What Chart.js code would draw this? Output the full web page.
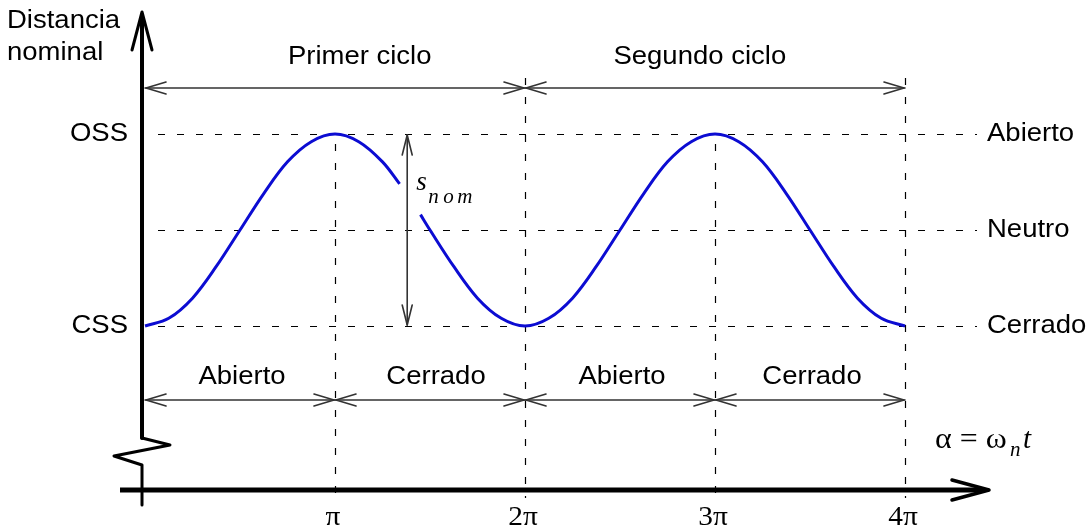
<!DOCTYPE html>
<html>
<head>
<meta charset="utf-8">
<script src="https://cdn.jsdelivr.net/npm/chart.js@4.4.0/dist/chart.umd.min.js"></script>
<style>
  html, body { margin: 0; padding: 0; background: #fff; }
  canvas { display: block; }
</style>
</head>
<body>
<canvas id="chart" width="1089" height="529"></canvas>
<script>
// Curve samples: x in multiples of pi, y normalised (-1 = CSS, 0 = neutro, 1 = OSS)
// null leaves the gap where the s_nom label sits
const curveX = [0, 0.125, 0.25, 0.375, 0.5, 0.625, 0.75, 0.875, 1, 1.125, 1.25, 1.34, 1.4, 1.45, 1.5,
  1.625, 1.75, 1.875, 2, 2.125, 2.25, 2.375, 2.5, 2.625, 2.75, 2.875, 3, 3.125, 3.25, 3.375, 3.5,
  3.625, 3.75, 3.875, 4];
const curveY = [-1, -0.92, -0.71, -0.38, 0, 0.38, 0.71, 0.92, 1, 0.92, 0.71, 0.48, null, 0.16, 0,
  -0.38, -0.71, -0.92, -1, -0.92, -0.71, -0.38, 0, 0.38, 0.71, 0.92, 1, 0.92, 0.71, 0.38, 0,
  -0.38, -0.71, -0.92, -1];

const levelValues = [1, 0, -1];
const levelLeft = ['OSS', '', 'CSS'];
const levelRight = ['Abierto', 'Neutro', 'Cerrado'];

const tickValues = [1, 2, 3, 4];
const tickLabels = ['π', '2π', '3π', '4π'];

const cycleBounds = [0, 2, 4];
const cycleLabels = ['Primer ciclo', 'Segundo ciclo'];

const phaseBounds = [0, 1, 2, 3, 4];
const phaseLabels = ['Abierto', 'Cerrado', 'Abierto', 'Cerrado'];

const SANS = '"Liberation Sans", Arial, sans-serif';
const SERIF = '"Liberation Serif", "DejaVu Serif", serif';

function seg(ctx, x1, y1, x2, y2) {
  ctx.beginPath();
  ctx.moveTo(x1, y1);
  ctx.lineTo(x2, y2);
  ctx.stroke();
}

// open chevron head, (dx,dy) = direction the arrow points
function head(ctx, tx, ty, dx, dy, len, half) {
  const bx = tx - dx * len, by = ty - dy * len;
  ctx.beginPath();
  ctx.moveTo(bx - dy * half, by + dx * half);
  ctx.lineTo(tx, ty);
  ctx.lineTo(bx + dy * half, by - dx * half);
  ctx.stroke();
}

function hArrow(ctx, xa, xb, py) {
  seg(ctx, xa, py, xb, py);
  head(ctx, xa + 1, py, -1, 0, 20, 6);
  head(ctx, xb - 1, py, 1, 0, 20, 6);
}

function text(ctx, str, px, py, font, align, sx = 1.1) {
  ctx.save();
  ctx.font = font;
  ctx.textAlign = align;
  ctx.textBaseline = 'middle';
  ctx.translate(px, py);
  ctx.scale(sx, 1);
  ctx.fillText(str, 0, 0);
  ctx.restore();
}

const diagram = {
  id: 'diagram',
  beforeDatasetsDraw(chart) {
    const { ctx, scales: { x, y } } = chart;
    const x0 = x.getPixelForValue(0);
    const xEnd = x.getPixelForValue(4);
    const yOss = y.getPixelForValue(1);
    ctx.save();
    ctx.strokeStyle = '#000';
    ctx.lineWidth = 1.2;
    ctx.setLineDash([7, 12]);
    levelValues.forEach(v => {
      const py = Math.round(y.getPixelForValue(v)) + 0.5;
      seg(ctx, x0 + 13, py, xEnd + 72, py);
    });
    tickValues.forEach(v => {
      const px = Math.round(x.getPixelForValue(v)) + 0.5;
      const top = v % 2 === 0 ? yOss - 56 : yOss + 10;
      seg(ctx, px, top, px, y.getPixelForValue(-1) + 172);
    });
    ctx.restore();
  },
  afterDatasetsDraw(chart) {
    const { ctx, scales: { x, y } } = chart;
    const yOss = y.getPixelForValue(1);
    const yCss = y.getPixelForValue(-1);
    const xAxis = x.getPixelForValue(0) - 3;
    const yAxis = yCss + 164;
    ctx.save();
    ctx.fillStyle = '#000';
    ctx.lineCap = 'round';
    ctx.lineJoin = 'round';

    // vertical axis with break
    ctx.strokeStyle = '#000';
    ctx.lineWidth = 4;
    seg(ctx, xAxis, 16, xAxis, yCss + 112);
    ctx.lineWidth = 3;
    ctx.beginPath();
    ctx.moveTo(xAxis, yCss + 112);
    ctx.lineTo(xAxis + 28, yCss + 119);
    ctx.lineTo(xAxis - 28, yCss + 130);
    ctx.lineTo(xAxis, yCss + 139);
    ctx.lineTo(xAxis, yAxis + 15);
    ctx.stroke();
    head(ctx, xAxis, 12, 0, -1, 38, 10);

    // horizontal axis
    ctx.lineWidth = 5;
    ctx.lineCap = 'butt';
    seg(ctx, xAxis - 22, yAxis, x.getPixelForValue(4) + 80, yAxis);
    ctx.lineCap = 'round';
    ctx.lineWidth = 3.5;
    head(ctx, x.getPixelForValue(4) + 84, yAxis, 1, 0, 37, 10);

    // double arrows
    ctx.strokeStyle = '#333';
    ctx.lineWidth = 1.6;
    const yCycle = yOss - 46;
    for (let i = 0; i < cycleLabels.length; i++) {
      hArrow(ctx, x.getPixelForValue(cycleBounds[i]), x.getPixelForValue(cycleBounds[i + 1]), yCycle);
    }
    const yPhase = yCss + 74;
    for (let i = 0; i < phaseLabels.length; i++) {
      hArrow(ctx, x.getPixelForValue(phaseBounds[i]), x.getPixelForValue(phaseBounds[i + 1]), yPhase);
    }
    // s_nom arrow
    const xs = x.getPixelForValue(1.38);
    seg(ctx, xs, yOss + 1, xs, yCss - 1);
    head(ctx, xs, yOss + 1, 0, -1, 20, 5);
    head(ctx, xs, yCss - 1, 0, 1, 20, 5);

    // texts
    const f = `25px ${SANS}`;
    text(ctx, 'Distancia', 7, 21, f, 'left');
    text(ctx, 'nominal', 7, 53, f, 'left');
    text(ctx, cycleLabels[0], x.getPixelForValue(1.13), yCycle - 31, f, 'center');
    text(ctx, cycleLabels[1], x.getPixelForValue(2.92), yCycle - 31, f, 'center');
    for (let i = 0; i < phaseLabels.length; i++) {
      const mid = (phaseBounds[i] + phaseBounds[i + 1]) / 2;
      text(ctx, phaseLabels[i], x.getPixelForValue(mid) + (i === 1 ? 6 : 2), yPhase - 23, f, 'center');
    }
    levelValues.forEach((v, i) => {
      const py = y.getPixelForValue(v);
      if (levelLeft[i]) text(ctx, levelLeft[i], xAxis - 14, py, f, 'right');
      text(ctx, levelRight[i], x.getPixelForValue(4) + 82, py, f, 'left');
    });
    tickValues.forEach((v, i) => {
      text(ctx, tickLabels[i], x.getPixelForValue(v) - 2, yAxis + 28, `28px ${SERIF}`, 'center', 1.05);
    });

    // s_nom label
    text(ctx, 's', xs + 9, yOss + 49, `italic 27px ${SERIF}`, 'left', 1);
    const sub = `italic 21px ${SERIF}`;
    text(ctx, 'n', xs + 21, yOss + 63, sub, 'left', 1);
    text(ctx, 'o', xs + 36, yOss + 63, sub, 'left', 1);
    text(ctx, 'm', xs + 50, yOss + 63, sub, 'left', 1);

    // alpha = omega_n t
    const ax = x.getPixelForValue(4) + 30;
    const ay = yAxis - 50;
    text(ctx, 'α = ω', ax, ay, `29px ${SERIF}`, 'left', 1.1);
    text(ctx, 'n', ax + 75, ay + 10, `italic 21px ${SERIF}`, 'left', 1);
    text(ctx, 't', ax + 88, ay, `italic 29px ${SERIF}`, 'left', 1);
    ctx.restore();
  }
};

new Chart(document.getElementById('chart'), {
  type: 'line',
  data: {
    datasets: [{
      data: curveX.map((v, i) => ({ x: v, y: curveY[i] })),
      borderColor: '#0c0cd2',
      borderWidth: 3,
      pointRadius: 0,
      fill: false,
      spanGaps: false,
      tension: 0.35
    }]
  },
  options: {
    responsive: false,
    animation: false,
    devicePixelRatio: 1,
    events: [],
    layout: { padding: 0 },
    plugins: { legend: { display: false }, tooltip: { enabled: false } },
    scales: {
      x: { type: 'linear', display: false, min: -0.7632, max: 4.9684 },
      y: { type: 'linear', display: false, min: -3.1146, max: 2.3958 }
    }
  },
  plugins: [diagram]
});
</script>
</body>
</html>
